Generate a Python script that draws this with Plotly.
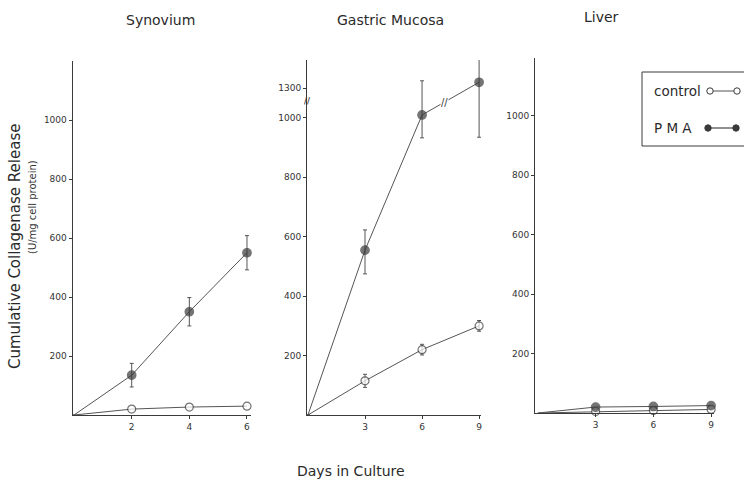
import plotly.graph_objects as go

# ---------------- data ----------------
syn_days = [0, 2, 4, 6]
syn_pma = [0, 135, 350, 550]
syn_pma_err = [0, 40, 48, 58]
syn_ctrl = [0, 20, 27, 30]

gm_days = [0, 3, 6, 9]
gm_pma = [0, 555, 1010, 1320]
gm_pma_err_up = [0, 68, 115, 173]
gm_pma_err_down = [0, 80, 77, 185]
gm_ctrl = [0, 115, 220, 300]
gm_ctrl_err = [0, 22, 18, 18]

liver_days = [0, 3, 6, 9]
liver_pma = [0, 20, 22, 25]
liver_ctrl = [0, 5, 8, 12]

syn_ticks = [2, 4, 6]
gm_ticks = [3, 6, 9]
liver_ticks = [3, 6, 9]
y_ticks = [200, 400, 600, 800, 1000]
gm_break_value = 1050      # values above this are drawn on the shifted part
gm_break_shift = 200       # the axis skips this many units
gm_upper_tick = 1300

titles = ["Synovium", "Gastric Mucosa", "Liver"]
y_title = "Cumulative Collagenase Release"
y_subtitle = "(U/mg cell protein)"
x_title = "Days in Culture"

# ---------------- style ----------------
W, H = 744, 480
INK = "#3a3a3a"
LINE = "#555555"
FONT = "DejaVu Sans"


def gm_display(v):
    return v - gm_break_shift if v > gm_break_value else v


def px(x):
    return x / W


def py(y):
    return 1 - y / H


fig = go.Figure()


def add_series(xs, ys, xa, ya, filled, err=None, err_minus=None):
    size = 8.5 if filled else 8
    marker = dict(size=[0 if xv == 0 else size for xv in xs],
                  color=INK if filled else "white",
                  line=dict(color=INK, width=1.2), symbol="circle")
    ey = None
    if err is not None:
        ey = dict(type="data", array=err,
                  arrayminus=err_minus if err_minus is not None else err,
                  symmetric=err_minus is None, color=LINE,
                  thickness=1, width=2)
    fig.add_trace(go.Scatter(x=xs, y=ys, mode="lines+markers",
                             xaxis=xa, yaxis=ya, marker=marker,
                             line=dict(color=LINE, width=1),
                             error_y=ey, showlegend=False, cliponaxis=False))


# Synovium
add_series(syn_days, syn_ctrl, "x", "y", False)
add_series(syn_days, syn_pma, "x", "y", True, syn_pma_err)
# Gastric mucosa
gm_pma_disp = [gm_display(v) for v in gm_pma]
add_series(gm_days, gm_ctrl, "x2", "y2", False, gm_ctrl_err)
add_series(gm_days, gm_pma_disp, "x2", "y2", True, gm_pma_err_up, gm_pma_err_down)
# Liver
add_series(liver_days, liver_ctrl, "x3", "y3", False)
add_series(liver_days, liver_pma, "x3", "y3", True)

axis_common = dict(showline=True, linecolor=INK, linewidth=1, showgrid=False,
                   zeroline=False, ticks="outside", ticklen=3, tickwidth=1,
                   tickcolor=INK, tickfont=dict(family=FONT, size=9, color="#333"))

fig.update_layout(
    width=W, height=H, margin=dict(l=0, r=0, t=0, b=0),
    paper_bgcolor="white", plot_bgcolor="white", showlegend=False,
    xaxis=dict(domain=[px(72.6), px(251.3)], range=[-0.05, 6.15],
               tickvals=syn_ticks, anchor="y", **axis_common),
    yaxis=dict(domain=[py(415), py(61)], range=[0, 1200],
               tickvals=y_ticks, anchor="x", **axis_common),
    xaxis2=dict(domain=[px(307), px(481)], range=[-0.05, 9.1],
                tickvals=gm_ticks, anchor="y2", **axis_common),
    yaxis2=dict(domain=[py(415), py(60)], range=[0, 1195],
                tickvals=y_ticks + [gm_upper_tick - gm_break_shift],
                ticktext=[str(v) for v in y_ticks] + [str(gm_upper_tick)],
                anchor="x2", **axis_common),
    xaxis3=dict(domain=[px(535), px(714)], range=[-0.15, 9.15],
                tickvals=liver_ticks, anchor="y3", **axis_common),
    yaxis3=dict(domain=[py(413), py(58)], range=[0, 1195],
                tickvals=y_ticks, anchor="x3", **axis_common),
)

ann = []
# panel titles
for t, cx, cy in zip(titles, [160, 390, 601], [20, 20, 17]):
    ann.append(dict(text=t, x=px(cx), y=py(cy), xref="paper", yref="paper",
                    showarrow=False, font=dict(family=FONT, size=14, color="#2a2a2a"),
                    xanchor="center", yanchor="middle"))
ann.append(dict(text=y_title, x=px(15), y=py(247), xref="paper", yref="paper",
                showarrow=False, textangle=-90,
                font=dict(family=FONT, size=15, color="#2a2a2a"),
                xanchor="center", yanchor="middle"))
ann.append(dict(text=y_subtitle, x=px(32), y=py(207), xref="paper", yref="paper",
                showarrow=False, textangle=-90,
                font=dict(family=FONT, size=10, color="#333"),
                xanchor="center", yanchor="middle"))
ann.append(dict(text=x_title, x=px(351), y=py(471), xref="paper", yref="paper",
                showarrow=False, font=dict(family=FONT, size=14, color="#2a2a2a"),
                xanchor="center", yanchor="middle"))
# axis break marks in gastric mucosa panel
ann.append(dict(text="<b>//</b>", x=-0.05, y=1054, xref="x2", yref="y2",
                showarrow=False, font=dict(family=FONT, size=8, color=INK),
                xanchor="center", yanchor="middle"))
ann.append(dict(text="//", x=7.2, y=1052, xref="x2", yref="y2",
                showarrow=False, font=dict(family=FONT, size=10, color=INK),
                xanchor="center", yanchor="middle", bgcolor="white", borderpad=0))

# legend box
ann.append(dict(text="control", x=px(652), y=py(91), xref="paper", yref="paper",
                showarrow=False, font=dict(family=FONT, size=13.5, color="#2a2a2a"),
                xanchor="left", yanchor="middle"))
ann.append(dict(text="P M A", x=px(652), y=py(128), xref="paper", yref="paper",
                showarrow=False, font=dict(family=FONT, size=13.5, color="#2a2a2a"),
                xanchor="left", yanchor="middle"))

shapes = [
    dict(type="rect", xref="paper", yref="paper", x0=px(642), x1=px(760),
         y0=py(146), y1=py(72), line=dict(color=INK, width=1)),
    dict(type="line", xref="paper", yref="paper", x0=px(711), x1=px(736),
         y0=py(91), y1=py(91), line=dict(color=LINE, width=1)),
    dict(type="line", xref="paper", yref="paper", x0=px(708), x1=px(736),
         y0=py(128), y1=py(128), line=dict(color=LINE, width=1.3)),
]
for cx, cy, fill in [(710, 91, "white"), (737, 91, "white"), (708, 128, INK), (736, 128, INK)]:
    r = 3.2
    shapes.append(dict(type="circle", xref="paper", yref="paper",
                       x0=px(cx - r), x1=px(cx + r), y0=py(cy + r), y1=py(cy - r),
                       line=dict(color=INK, width=1), fillcolor=fill))

fig.update_layout(annotations=ann, shapes=shapes)
fig.write_html("out.html", config={"displayModeBar": False},
               post_script="document.body.style.margin='0';document.body.style.overflow='hidden';")
